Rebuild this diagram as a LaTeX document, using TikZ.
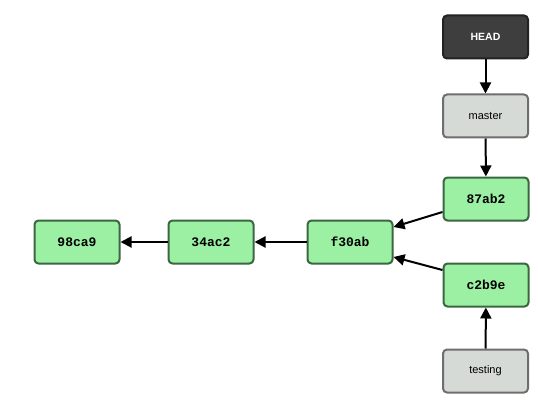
\documentclass[tikz,border=0pt]{standalone}
\usepackage{fontspec}
\setmainfont{Liberation Sans}
\newfontfamily\commitfont{Liberation Mono}
\usetikzlibrary{arrows.meta}
\definecolor{cfill}{HTML}{9CF0A4}
\definecolor{cdraw}{HTML}{3A6640}
\definecolor{hfill}{HTML}{3E3E3E}
\definecolor{hdraw}{HTML}{222222}
\definecolor{bfill}{HTML}{D5DAD7}
\definecolor{bdraw}{HTML}{6E6E6E}
\begin{document}
\begin{tikzpicture}[x=1pt,y=-1pt,
  box/.style={rounded corners=4pt,line width=2pt,minimum width=85pt,minimum height=43pt,inner sep=0pt},
  commit/.style={box,fill=cfill,draw=cdraw,font=\commitfont\bfseries\fontsize{13}{15}\selectfont},
  headbox/.style={box,fill=hfill,draw=hdraw,text=white,font=\fontsize{10.5}{13}\selectfont\bfseries},
  branch/.style={box,fill=bfill,draw=bdraw,font=\fontsize{11}{13}\selectfont},
  arr/.style={line width=2pt,-{Triangle[length=11pt,width=11pt]}}]
\useasboundingbox (0,0) rectangle (538,401);
\node[headbox] (head) at (485.5,37) {HEAD};
\node[branch] (master) at (485.5,116) {master};
\node[commit] (c87) at (486,199) {87ab2};
\node[commit] (f30) at (350,242) {f30ab};
\node[commit] (c2b) at (486,285) {c2b9e};
\node[branch] (testing) at (485.5,371) {testing};
\node[commit] (c34) at (211,242) {34ac2};
\node[commit] (c98) at (77,242) {98ca9};
\draw[arr] (head) -- (master);
\draw[arr] (master) -- (c87);
\draw[arr] (testing) -- (c2b);
\draw[arr] ([yshift=-13pt]c87.west) -- ([yshift=15pt]f30.east);
\draw[arr] ([yshift=15pt]c2b.west) -- ([yshift=-15pt]f30.east);
\draw[arr] (f30) -- (c34);
\draw[arr] (c34) -- (c98);
\end{tikzpicture}
\end{document}
